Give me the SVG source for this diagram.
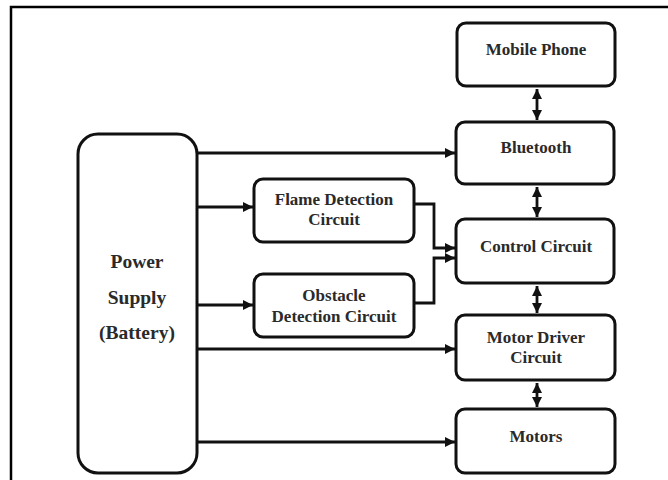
<svg xmlns="http://www.w3.org/2000/svg" width="668" height="480" viewBox="0 0 668 480">
<style>
.box{fill:#fff;stroke:#111;stroke-width:3}
.t{font-family:'Liberation Serif',serif;font-weight:bold;font-size:17px;fill:#2a2a2a;text-anchor:middle}
.tp{font-size:19.5px}
.c{fill:none;stroke:#111;stroke-width:2.8}
</style>
<defs>
<marker id="ah" viewBox="0 0 10 10" refX="10" refY="5" markerWidth="10" markerHeight="10" markerUnits="userSpaceOnUse" orient="auto-start-reverse">
<path d="M0,0 L10,5 L0,10 z" fill="#111"/>
</marker>
</defs>
<rect width="668" height="480" fill="#fff"/>
<path d="M668,7 H11 V480" fill="none" stroke="#000" stroke-width="2.5"/>

<g id="power">
<rect class="box" x="78" y="134" width="119" height="339" rx="20"/>
<text class="t tp" x="137" y="268">Power</text>
<text class="t tp" x="137" y="304">Supply</text>
<text class="t tp" x="137" y="339">(Battery)</text>
</g>
<g id="mobile">
<rect class="box" x="457" y="23" width="158" height="63" rx="9"/>
<text class="t" x="536" y="55">Mobile Phone</text>
</g>
<g id="bluetooth">
<rect class="box" x="456" y="122" width="158" height="62" rx="9"/>
<text class="t" x="536" y="153">Bluetooth</text>
</g>
<g id="flame">
<rect class="box" x="254" y="179" width="160" height="63" rx="9"/>
<text class="t" x="334" y="205">Flame Detection</text>
<text class="t" x="334" y="225">Circuit</text>
</g>
<g id="control">
<rect class="box" x="456" y="219" width="158" height="64" rx="9"/>
<text class="t" x="536" y="252">Control Circuit</text>
</g>
<g id="obstacle">
<rect class="box" x="254" y="274" width="160" height="63" rx="9"/>
<text class="t" x="334" y="301">Obstacle</text>
<text class="t" x="334" y="322">Detection Circuit</text>
</g>
<g id="motordriver">
<rect class="box" x="456" y="315" width="159" height="65" rx="9"/>
<text class="t" x="536" y="343">Motor Driver</text>
<text class="t" x="536" y="363">Circuit</text>
</g>
<g id="motors">
<rect class="box" x="456" y="409" width="159" height="64" rx="9"/>
<text class="t" x="536" y="442">Motors</text>
</g>

<g id="connectors">
<line class="c" x1="197" y1="153" x2="455" y2="153" marker-end="url(#ah)"/>
<line class="c" x1="197" y1="207" x2="253" y2="207" marker-end="url(#ah)"/>
<line class="c" x1="197" y1="305" x2="253" y2="305" marker-end="url(#ah)"/>
<line class="c" x1="197" y1="349" x2="455" y2="349" marker-end="url(#ah)"/>
<line class="c" x1="197" y1="442" x2="455" y2="442" marker-end="url(#ah)"/>
<path class="c" d="M414,204 H434 V248 H455" marker-end="url(#ah)"/>
<path class="c" d="M414,303 H434 V258 H455" marker-end="url(#ah)"/>
<line class="c" x1="537" y1="89" x2="537" y2="120" marker-start="url(#ah)" marker-end="url(#ah)"/>
<line class="c" x1="537" y1="187" x2="537" y2="217" marker-start="url(#ah)" marker-end="url(#ah)"/>
<line class="c" x1="537" y1="286" x2="537" y2="313" marker-start="url(#ah)" marker-end="url(#ah)"/>
<line class="c" x1="537" y1="383" x2="537" y2="407" marker-start="url(#ah)" marker-end="url(#ah)"/>
</g>
</svg>
